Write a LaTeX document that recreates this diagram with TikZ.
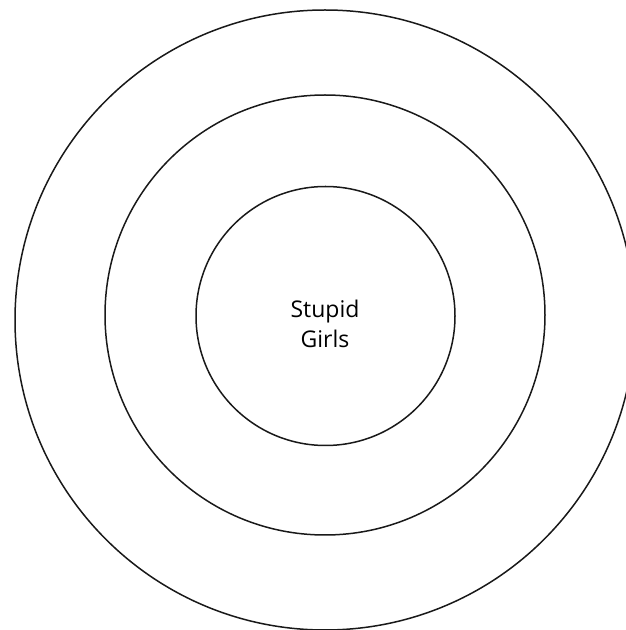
\documentclass[tikz,border=0pt]{standalone}
\usepackage{fontspec}
\setmainfont{Open Sans}
\begin{document}
\begin{tikzpicture}[x=1pt,y=1pt,
  ring/.style={draw=black!90,line width=1.5pt,circle,inner sep=0pt,minimum size=#1},
  lbl/.style={align=center,font=\fontsize{23}{30}\selectfont}]
\useasboundingbox (0,0) rectangle (626,630);
\clip (0,0) rectangle (626,630);
\node[ring=620pt] (outer) at (325,310) {};
\node[ring=440pt] (middle) at (325,315) {};
\node[ring=259pt] (inner) at (325.5,314) {};
\node[lbl] (label) at (325,306) {Stupid\\Girls};
\end{tikzpicture}
\end{document}
